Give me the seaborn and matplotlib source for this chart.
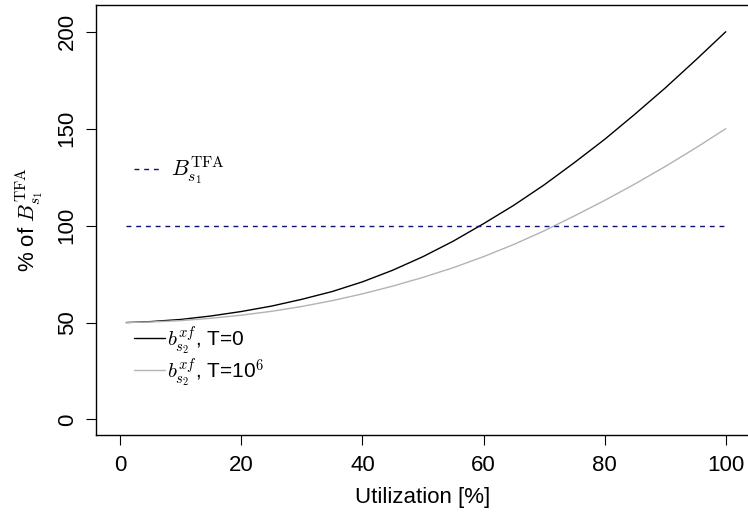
import numpy as np
import pandas as pd
import seaborn as sns
import matplotlib.pyplot as plt
from matplotlib.lines import Line2D

# values
utilization = [1, 5, 10, 15, 20, 25, 30, 35, 40, 45, 50, 55, 60, 65, 70, 75, 80, 85, 90, 95, 100]
t0_pct = [50.0, 50.5, 51.6, 53.4, 55.7, 58.5, 62.0, 66.0, 71.0, 77.0, 84.0, 92.0,
          101.0, 110.5, 121.0, 132.5, 144.5, 157.5, 171.0, 185.3, 200.0]
t1e6_pct = [50.0, 50.3, 51.0, 52.2, 53.8, 55.8, 58.3, 61.3, 64.8, 68.8, 73.3, 78.3,
            84.0, 90.3, 97.3, 105.0, 113.0, 121.5, 130.5, 140.0, 150.0]
tfa_level = 100
x_ticks = [0, 20, 40, 60, 80, 100]
y_ticks = [0, 50, 100, 150, 200]

sns.set_style("ticks")
plt.rcParams['font.family'] = ['Liberation Sans', 'DejaVu Sans']
plt.rcParams['mathtext.fontset'] = 'cm'
plt.rcParams['font.size'] = 16
for k in ['text.color', 'axes.labelcolor', 'xtick.color', 'ytick.color']:
    plt.rcParams[k] = 'black'

df = pd.DataFrame({'util': utilization, 't0': t0_pct, 't1e6': t1e6_pct})
navy = '#101070'
grey = '#b3b3b3'

fig = plt.figure(figsize=(7.48, 5.16), dpi=100)
ax = fig.add_axes([96 / 748, 81 / 516, 654 / 748, 430 / 516])

sns.lineplot(data=df, x='util', y='t0', color='black', lw=1.0, ax=ax)
sns.lineplot(data=df, x='util', y='t1e6', color=grey, lw=1.0, ax=ax)
ax.plot([utilization[0], utilization[-1]], [tfa_level, tfa_level],
        color=navy, lw=1.0, dashes=(3.5, 3.5))

ax.set_xlim(-4, 104)
ax.set_ylim(-8, 213.8)
ax.set_xticks(x_ticks)
ax.set_yticks(y_ticks)
ax.set_yticklabels([str(v) for v in y_ticks], rotation=90, va='center')
ax.tick_params(axis='both', length=7.2, width=0.8, labelsize=16)
ax.tick_params(axis='x', pad=7.5)
ax.tick_params(axis='y', pad=6)
for s in ax.spines.values():
    s.set_linewidth(1.0)
    s.set_color('black')

ax.set_xlabel('Utilization [%]', fontsize=16)
ax.set_ylabel(r'% of $B_{s_1}^{\mathrm{TFA}}$', fontsize=16)
ax.xaxis.set_label_coords(0.5, -0.122)
ax.yaxis.set_label_coords(-0.076, 0.5)

h_tfa = [Line2D([], [], color=navy, lw=1.0, dashes=(3.5, 3.5))]
leg1 = ax.legend(h_tfa, [r'$B_{s_1}^{\mathrm{TFA}}$'], loc='center left',
                 bbox_to_anchor=(2.3, 128), bbox_transform=ax.transData,
                 frameon=False, borderpad=0, borderaxespad=0,
                 handlelength=1.25, handletextpad=0.4, fontsize=16)
ax.add_artist(leg1)

h_b = [Line2D([], [], color='black', lw=1.0), Line2D([], [], color=grey, lw=1.0)]
ax.legend(h_b, [r'$b_{s_2}^{xf}$, T=0', r'$b_{s_2}^{xf}$, T=10$^{\mathsf{6}}$'],
          loc='center left', bbox_to_anchor=(2.3, 32.4), bbox_transform=ax.transData,
          frameon=False, borderpad=0, borderaxespad=0, labelspacing=0.0,
          handlelength=1.5, handletextpad=0.1, fontsize=15)

fig.savefig('out.png', dpi=100)
